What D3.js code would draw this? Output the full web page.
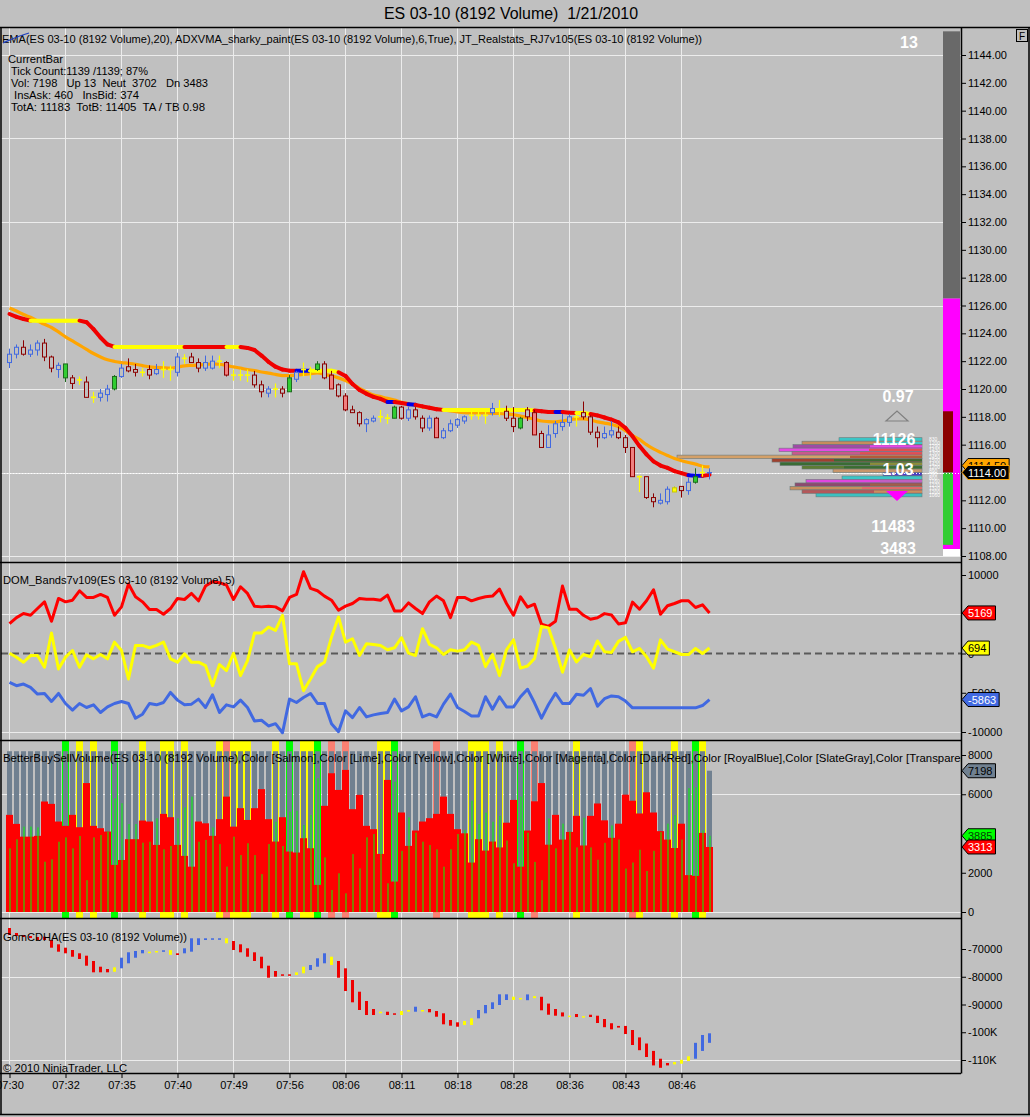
<!DOCTYPE html>
<html><head><meta charset="utf-8">
<script src="https://cdn.jsdelivr.net/npm/d3@7"></script>
<style>
html,body{margin:0;padding:0;background:#c0c0c0;}
svg{display:block;}
text{font-family:"Liberation Sans",Arial,sans-serif;}
</style></head><body>
<svg id="c" width="1030" height="1117"></svg>
<script>
// ---------------- DATA ----------------
const tickBars   = [0,8,16,24,32,40,48,56,64,72,80,88,96];
const tickLabels = ["07:30","07:32","07:35","07:40","07:49","07:56","08:06","08:11","08:18","08:28","08:36","08:43","08:46"];
const priceTicks = [1108,1110,1112,1116,1118,1120,1122,1124,1126,1128,1130,1132,1134,1136,1138,1140,1142,1144];
const priceGrid  = [1108,1114,1120,1126,1132,1138,1144];
const domTicks = [10000,0,-5000,-10000];
const domGrid  = [5000,-10000];
const volTicks = [0,2000,6000,8000];
const volGrid  = [0,6000];
const cdTicks  = [-70000,-80000,-90000,-100000,-110000];
const cdGrid   = [-80000,-110000];

const open = [1121.9,1122.5,1123.0,1122.5,1122.8,1123.3,1122.3,1121.4,1120.8,1120.8,
1120.65,1120.5,1119.4,1119.4,1119.6,1120.0,1120.9,1121.6,1121.4,1121.2,
1121.4,1121.1,1121.4,1121.4,1121.2,1122.2,1122.3,1121.9,1121.5,1121.5,
1122.0,1121.9,1121.0,1121.0,1121.0,1121.0,1120.3,1119.7,1120.0,1120.0,
1119.8,1120.7,1121.4,1121.3,1121.4,1121.8,1121.0,1120.3,1119.5,1118.5,
1118.3,1117.5,1117.7,1118.0,1117.9,1117.9,1118.7,1117.9,1118.5,1117.9,
1117.2,1117.9,1116.5,1117.0,1117.4,1117.7,1118.1,1118.1,1118.1,1118.3,
1118.5,1118.4,1117.9,1117.2,1118.5,1118.3,1116.8,1115.8,1116.8,1117.3,
1117.6,1118.0,1118.3,1118.0,1116.9,1116.5,1116.7,1116.9,1116.5,1115.8,
1113.7,1113.7,1112.2,1111.8,1111.9,1112.9,1113.0,1112.7,1113.3,1114.0,
1114.0];
const high = [1122.9,1123.2,1123.5,1123.2,1123.5,1123.6,1122.4,1121.9,1121.8,1121.0,
1120.9,1120.9,1119.8,1120.0,1120.3,1121.0,1121.8,1122.2,1121.8,1121.5,
1121.7,1121.8,1122.0,1121.7,1122.6,1122.5,1122.6,1122.2,1122.4,1122.4,
1122.4,1122.0,1121.4,1121.4,1121.4,1121.3,1120.6,1120.2,1120.4,1120.2,
1121.0,1121.3,1121.9,1121.6,1122.0,1122.0,1121.3,1120.4,1119.7,1118.8,
1118.4,1117.9,1118.1,1118.5,1118.2,1118.8,1118.8,1118.7,1118.7,1118.1,
1118.1,1118.0,1117.2,1117.8,1117.9,1118.1,1118.4,1118.4,1118.6,1119.0,
1119.2,1118.8,1118.7,1118.0,1118.7,1118.5,1117.0,1117.4,1117.7,1118.2,
1118.2,1118.4,1119.1,1118.1,1117.3,1117.3,1117.7,1117.3,1116.7,1115.8,
1113.8,1113.7,1112.5,1112.5,1113.0,1113.0,1113.0,1113.6,1114.3,1114.5,
1114.3];
const low = [1121.5,1122.2,1122.4,1122.3,1122.4,1122.0,1121.2,1120.8,1120.5,1120.0,
1120.3,1119.4,1119.0,1119.1,1119.1,1119.9,1120.8,1121.2,1120.9,1120.9,
1120.7,1121.0,1120.8,1120.6,1120.9,1121.8,1121.9,1121.2,1121.3,1121.4,
1121.5,1120.9,1120.6,1120.6,1120.5,1120.1,1119.4,1119.4,1119.4,1119.4,
1119.8,1120.5,1120.9,1120.7,1121.3,1120.7,1120.0,1119.4,1118.4,1118.3,
1117.3,1116.9,1117.6,1117.6,1117.5,1117.9,1117.8,1117.7,1117.8,1116.9,
1117.0,1116.5,1116.4,1116.9,1117.2,1117.5,1117.8,1117.8,1117.5,1118.1,
1118.0,1117.7,1116.9,1117.1,1117.7,1116.7,1115.8,1115.8,1116.5,1117.0,
1117.3,1117.3,1117.8,1116.7,1115.8,1116.4,1116.5,1116.4,1115.4,1113.7,
1112.6,1112.1,1111.5,1111.7,1111.7,1112.6,1112.2,1112.4,1113.2,1113.7,
1113.5];
const close = [1122.5,1123.0,1122.5,1122.8,1123.3,1122.3,1121.5,1121.7,1121.8,1120.4,
1120.65,1119.4,1119.4,1119.7,1120.0,1120.9,1121.5,1121.3,1121.2,1121.2,
1121.0,1121.4,1121.4,1121.4,1122.3,1122.2,1121.9,1121.5,1121.9,1122.0,
1122.0,1121.0,1121.0,1121.0,1121.0,1120.3,1119.8,1120.0,1120.0,1119.7,
1120.8,1121.2,1121.4,1121.3,1121.8,1120.8,1120.0,1119.5,1118.5,1118.3,
1117.5,1117.8,1117.9,1118.0,1117.9,1118.7,1117.9,1118.5,1118.0,1117.2,
1117.9,1116.5,1117.0,1117.5,1117.8,1118.0,1118.1,1118.1,1118.1,1118.6,
1118.5,1117.9,1117.3,1117.9,1118.0,1116.7,1115.8,1116.7,1117.5,1117.6,
1118.0,1118.0,1118.0,1116.9,1116.5,1116.8,1117.0,1116.5,1115.8,1113.7,
1113.7,1112.2,1111.9,1112.0,1112.8,1112.6,1112.7,1113.3,1113.7,1114.0,
1114.0];
// u=up(royal blue) d=down(dark red) y=neutral cross g=strong up s=strong down Y=neutral filled
const barType = ["u","u","d","u","u","d","d","u","g","d",
"y","d","y","u","u","g","u","d","d","y",
"d","u","y","y","u","y","d","d","u","u",
"y","s","y","y","y","d","d","u","y","d",
"g","u","y","y","g","d","s","d","s","d",
"d","u","u","y","y","g","d","u","d","d",
"u","s","u","u","u","u","y","y","y","u",
"y","d","d","g","d","s","d","u","u","u",
"u","y","d","d","d","u","u","d","d","s",
"y","d","d","u","u","Y","d","u","g","y",
"u"];
const ema = [1125.82,1125.6,1125.35,1125.15,1124.9,1124.65,1124.42,1124.1,1123.75,1123.45,
1123.15,1122.85,1122.55,1122.3,1122.1,1121.98,1121.9,1121.85,1121.78,1121.68,
1121.59,1121.55,1121.52,1121.5,1121.58,1121.66,1121.7,1121.73,1121.76,1121.8,
1121.78,1121.68,1121.59,1121.5,1121.4,1121.33,1121.22,1121.14,1121.05,1120.96,
1120.97,1121.0,1121.05,1121.1,1121.15,1121.05,1120.95,1120.8,1120.6,1120.35,
1120.05,1119.8,1119.57,1119.45,1119.33,1119.2,1119.05,1118.95,1118.82,1118.72,
1118.64,1118.58,1118.5,1118.42,1118.35,1118.3,1118.28,1118.28,1118.28,1118.26,
1118.24,1118.2,1118.15,1118.05,1117.95,1117.82,1117.7,1117.66,1117.64,1117.7,
1117.8,1117.85,1117.85,1117.78,1117.64,1117.55,1117.45,1117.3,1117.0,1116.65,
1116.38,1116.0,1115.7,1115.45,1115.22,1115.0,1114.85,1114.72,1114.6,1114.45,
1114.4];
const adxvma = [1125.39,1125.18,1125.03,1124.91,1124.91,1124.91,1124.91,1124.91,1124.91,1124.91,
1124.91,1124.8,1124.3,1123.7,1123.2,1123.02,1123.02,1123.02,1123.02,1123.02,
1123.02,1123.02,1123.02,1123.02,1123.02,1123.02,1123.02,1123.02,1123.02,1123.02,
1123.02,1123.02,1123.02,1123.02,1122.95,1122.8,1122.4,1121.95,1121.6,1121.4,
1121.32,1121.32,1121.32,1121.32,1121.32,1121.32,1121.32,1121.2,1120.94,1120.36,
1119.93,1119.65,1119.43,1119.29,1119.07,1119.07,1119.0,1118.9,1118.86,1118.75,
1118.65,1118.55,1118.5,1118.5,1118.5,1118.5,1118.5,1118.5,1118.5,1118.5,
1118.5,1118.5,1118.5,1118.5,1118.5,1118.45,1118.4,1118.35,1118.35,1118.35,
1118.3,1118.28,1118.28,1118.2,1118.1,1117.95,1117.8,1117.6,1117.2,1116.6,
1115.9,1115.3,1114.8,1114.5,1114.33,1114.1,1113.95,1113.8,1113.76,1113.76,
1113.83];
const adxColor = ["r","r","r","y","y","y","y","y","y","y",
"r","r","r","r","r","y","y","y","y","y",
"y","y","y","y","y","r","r","r","r","r",
"r","y","y","r","r","r","r","r","r","r",
"r","b","b","y","y","y","y","r","r","r",
"r","r","r","r","b","r","r","b","r","r",
"r","r","y","y","y","y","y","y","y","y",
"y","y","y","y","y","r","r","r","b","r",
"r","y","y","r","r","r","r","r","r","r",
"r","r","r","r","r","r","r","b","b","r",
"r"];

const domUpper = [3800,4570,5090,4870,5730,6580,4100,7010,6580,6790,
7990,7140,7140,7520,7140,4870,5940,8850,7220,6580,
5600,5600,5000,5730,7010,6880,7650,6710,8590,9150,
9020,8720,6880,8500,7650,6030,5940,6030,5940,5430,
7140,7520,10420,8290,7990,7310,6790,5510,6030,6370,
7010,6920,6920,6790,7440,5430,5430,6450,5730,5090,
6580,7310,6710,4570,7140,7140,6710,7010,7220,7310,
8200,6370,4870,7220,5900,6280,3720,3460,4100,8590,
5640,5640,4870,4360,4550,5080,4900,3770,3910,6540,
5640,6720,8120,5000,6080,6370,6720,6720,5860,6200,
5169];
const domMid = [40,-470,-1110,-260,-260,-1750,2610,-1970,-470,380,
-1750,-170,-680,-130,-680,1450,380,-3250,1030,1030,
730,1030,1450,-680,-1110,-40,-1110,-1110,-1540,-4100,
-1410,-2180,40,-2820,-900,2610,2610,3370,2950,4870,
-1320,-1320,-4740,-3250,-1670,-1110,2090,4660,1450,1880,
-260,1240,1150,1030,470,730,2010,40,-260,3160,
1150,730,-130,470,300,470,1450,1030,-1670,-130,
-2820,470,1740,-1860,-1600,-640,3460,3260,640,-2380,
440,-1080,-130,-420,1600,220,130,1540,2050,220,
640,-420,-1860,1740,560,220,-130,-130,640,0,
694];
const domLower = [-3680,-4100,-3890,-4320,-5170,-5090,-6110,-5090,-6370,-7220,
-6370,-6880,-6540,-7520,-6800,-6370,-6110,-6370,-8250,-7730,
-6370,-6540,-6240,-4960,-5940,-6540,-6450,-5810,-6880,-5260,
-7520,-6540,-6800,-5940,-6880,-8590,-8500,-9230,-8940,-10090,
-5810,-6240,-5600,-5090,-6370,-6370,-8940,-9960,-7310,-8160,
-6880,-8080,-7820,-7650,-7520,-5810,-7310,-6800,-5510,-8080,
-7730,-8080,-6450,-5170,-6880,-7390,-7950,-7950,-5510,-7090,
-5510,-6800,-6800,-5510,-4550,-6280,-8230,-6500,-5060,-6370,
-6370,-5190,-5320,-4460,-6720,-5760,-5410,-5500,-6060,-6920,
-6920,-6920,-6920,-6920,-6920,-6920,-6920,-6920,-6920,-6630,
-5863];

const totalVol = [8192,8192,8192,8192,8192,8192,8192,8192,8192,8192,
8192,8192,8192,8192,8192,8192,8192,8192,8192,8192,
8192,8192,8192,8192,8192,8192,8192,8192,8192,8192,
8192,8192,8192,8192,8192,8192,8192,8192,8192,8192,
8192,8192,8192,8192,8192,8192,8192,8192,8192,8192,
8192,8192,8192,8192,8192,8192,8192,8192,8192,8192,
8192,8192,8192,8192,8192,8192,8192,8192,8192,8192,
8192,8192,8192,8192,8192,8192,8192,8192,8192,8192,
8192,8192,8192,8192,8192,8192,8192,8192,8192,8192,
8192,8192,8192,8192,8192,8192,8192,8192,8192,8192,
7198];
const sellVol = [4950,4490,3840,3840,3880,5630,5510,4610,4390,4950,
4320,6570,4390,4270,4100,2400,2650,3710,3710,4660,
4610,3420,5000,4830,3420,2860,2310,4610,4520,3880,
4730,5880,4350,5290,4690,5290,6260,4730,3590,4830,
3080,3030,3760,3250,1380,5410,7070,6220,7240,5240,
5970,4390,4220,2960,6730,1550,5070,3370,4150,4610,
4780,5000,5880,5000,4220,4010,2520,3710,3130,3590,
3290,4550,5710,2310,4150,5640,6570,3430,4950,3690,
4080,4900,3390,4900,5530,4670,3780,4500,5980,5670,
5020,6100,5070,4120,3690,3260,4500,1880,1840,4030,
3313];

const cdOpen = [-62430,-64230,-64950,-65310,-65680,-65570,-66760,-68310,-69530,-70360,
-71550,-72410,-74320,-76380,-77210,-78200,-76960,-75150,-73140,-71550,
-71330,-71080,-70830,-70400,-71550,-71550,-70970,-68560,-66760,-66400,
-66400,-66140,-67120,-68310,-69750,-71190,-72780,-76020,-77930,-79120,
-79120,-79370,-78760,-77570,-76380,-75150,-72780,-74320,-76960,-81170,
-85390,-88740,-91620,-92600,-92600,-93170,-93790,-92600,-92600,-91980,
-91620,-92350,-93170,-95590,-96420,-97390,-97390,-94980,-93170,-91620,
-90180,-88380,-88380,-87650,-88450,-87000,-87220,-89680,-91620,-92850,
-94000,-93430,-94200,-93690,-94040,-95230,-96750,-97720,-97720,-99190,
-101860,-104060,-106720,-109540,-111080,-111590,-111340,-110360,-109540,-106730,
-103810];
const cdClose = [-64950,-65310,-65680,-66040,-66760,-66760,-69530,-70970,-71550,-72780,
-73600,-76020,-78400,-78400,-78400,-76600,-73140,-71190,-70720,-70360,
-70970,-70720,-70470,-72100,-72160,-69750,-66140,-66140,-66140,-66140,
-66140,-67950,-70360,-71190,-72780,-74320,-76960,-80340,-79980,-79620,
-79620,-78400,-76380,-75770,-73350,-71550,-75770,-80340,-85140,-89210,
-91980,-93790,-93790,-92960,-93790,-93530,-92350,-91980,-90800,-92350,
-92810,-94400,-97140,-97640,-98000,-95950,-94980,-91980,-90180,-89210,
-86330,-86330,-87190,-88000,-86360,-87700,-92090,-93680,-94040,-94300,
-94300,-94520,-94500,-94510,-96670,-98180,-98950,-98330,-100640,-104600,
-106470,-108920,-111950,-112810,-111950,-110730,-109900,-108670,-103810,-100990,
-100380];
const cdColor = ["r","r","r","r","r","r","r","r","r","r",
"r","r","r","r","r","y","b","b","b","b",
"y","y","b","y","r","b","b","b","b","b",
"b","y","r","r","r","r","r","r","r","r",
"r","y","y","b","b","b","y","r","r","r",
"r","r","r","y","r","r","y","y","b","y",
"r","r","r","r","r","y","y","b","b","b",
"b","b","y","y","b","y","r","r","r","r",
"y","r","y","r","r","r","r","r","r","r",
"r","r","r","r","r","y","y","y","b","b",
"b"];

// volume profile at price (right side of price panel)
const profPrice = [1116.375,1116.125,1115.875,1115.625,1115.375,1115.125,1114.875,1114.625,1114.375,1114.125,1113.875,1113.625,1113.375,1113.125,1112.875,1112.625,1112.375];
const profVol   = [830,1200,1290,1430,1300,2450,1500,1420,1200,890,390,800,1160,1270,1320,1200,1060];
const profCol   = ["#3cc6c6","#c68c5c","#a04aa6","#e44ae4","#c85a8c","#d4a068","#a0402e","#3a6c34","#5e7c34","#c8966a","#4a3cc8","#3cc6c6","#e046e0","#8c4a6e","#c8905e","#b4585a","#3cc0c0"];
const profVol2  = [0,420,520,530,620,720,880,520,780,0,0,0,420,520,600,480,0];
const profCol2  = ["#3cc6c6","#3cc6c6","#e44ae4","#e05050","#e05050","#b45a3a","#3a6c34","#8c8c3c","#3a6c34","#c8966a","#4a3cc8","#3cc6c6","#c060c0","#a06048","#e06a6a","#c8905e","#3cc0c0"];

// right stats column (price ranges)
const statFrom  = [1145.7,1126.5,1118.4,1114.0,1108.5];
const statTo    = [1126.5,1108.5,1114.0,1108.8,1108.0];
const statColor = ["#696969","#ff00ff","#8b0000","#32cd32","#ffffff"];
const statWide  = [true,true,false,false,true];

// ---------------- DRAW ----------------
const svg = d3.select("#c");
const FONT = '"Liberation Sans",Arial,sans-serif';
const AXX = 961;
const panels = {p:[28,562], d:[562,740], v:[740,918], c:[918,1073]};

const xs = d3.scaleLinear().domain([0,100]).range([9,709]);
const yP = d3.scaleLinear().domain([1108,1144]).range([556,55]);
const yD = d3.scaleLinear().domain([-10000,10000]).range([732,575]);
const yV = d3.scaleLinear().domain([0,8000]).range([912,755]);
const yC = d3.scaleLinear().domain([-110000,-70000]).range([1060,949]);
const xProf = d3.scaleLinear().domain([0,2450]).range([0,245]);

svg.append("rect").attr("width",1030).attr("height",1117).attr("fill","#c0c0c0");

const defs = svg.append("defs");
Object.entries(panels).forEach(([k,[t,b]])=>{
  defs.append("clipPath").attr("id","clip-"+k).append("rect")
    .attr("x",1).attr("y",t+1).attr("width",AXX-1).attr("height",b-t-1);
});
function panelG(k){ return svg.append("g").attr("clip-path","url(#clip-"+k+")"); }

// grids
const GRID = "#ececec";
const gridG = svg.append("g");
Object.entries(panels).forEach(([k,[t,b]])=>{
  gridG.selectAll(null).data(tickBars).enter().append("line")
    .attr("x1",d=>xs(d)+0.5).attr("x2",d=>xs(d)+0.5).attr("y1",t).attr("y2",b)
    .attr("stroke",GRID).attr("stroke-width",1);
});
function hgrid(vals, sc){
  gridG.selectAll(null).data(vals).enter().append("line")
    .attr("x1",1).attr("x2",AXX).attr("y1",d=>Math.round(sc(d))+0.5).attr("y2",d=>Math.round(sc(d))+0.5)
    .attr("stroke",GRID).attr("stroke-width",1);
}
hgrid(priceGrid,yP); hgrid(domGrid,yD); hgrid(volGrid,yV); hgrid(cdGrid,yC);

// ---- price panel ----
const gp = panelG("p");
statFrom.forEach((f,i)=>{
  gp.append("rect").attr("x",943).attr("width",statWide[i]?17:10)
    .attr("y",yP(f)).attr("height",yP(statTo[i])-yP(f)).attr("fill",statColor[i]);
});
profPrice.forEach((p,i)=>{
  const yc = yP(p), h = yP(0) - yP(0.25);
  const x0 = 922 - xProf(profVol[i]);
  gp.append("rect").attr("x",x0).attr("y",yc-h/2).attr("width",xProf(profVol[i])).attr("height",h)
    .attr("fill",profCol[i]).attr("stroke","#6a7a7a").attr("stroke-width",0.6);
  if(profVol2[i]>0){
    gp.append("rect").attr("x",922-xProf(profVol2[i])).attr("y",yc-h/2+0.6).attr("width",xProf(profVol2[i])).attr("height",h-1.2)
      .attr("fill",profCol2[i]);
  }
  gp.append("text").attr("x",929).attr("y",yc+2).text(profVol[i])
    .attr("fill","#fff").style("font-size","5px").style("font-family",FONT);
});
gp.append("line").attr("x1",1).attr("x2",AXX).attr("y1",Math.round(yP(1114))+0.5).attr("y2",Math.round(yP(1114))+0.5)
  .attr("stroke","#ffffff").attr("stroke-dasharray","1,2");

gp.append("path").datum(ema)
  .attr("d",d3.line().x((d,i)=>xs(i)+0.5).y(d=>yP(d)).curve(d3.curveMonotoneX))
  .attr("fill","none").attr("stroke","#ffa500").attr("stroke-width",3.2);
const adxC = {r:"#f00000",y:"#ffff00",b:"#0000e8"};
for(let i=0;i<adxvma.length-1;i++){
  gp.append("line").attr("x1",xs(i)+0.5).attr("y1",yP(adxvma[i])).attr("x2",xs(i+1)+0.5).attr("y2",yP(adxvma[i+1]))
    .attr("stroke",adxC[adxColor[i]]).attr("stroke-width",4).attr("stroke-linecap","round");
}
const cStroke = {u:"#4169e1",d:"#8b0000",g:"#1d6b1d",s:"#8b0000",y:"#ffff00",Y:"#c8c800"};
const cFill   = {u:"none",d:"none",g:"#32cd32",s:"#f08080",y:"none",Y:"#ffff00"};
open.forEach((o,i)=>{
  const t = barType[i], x = xs(i);
  const g = gp.append("g");
  if(t==="y"){
    g.append("line").attr("x1",x+0.5).attr("x2",x+0.5).attr("y1",yP(high[i])).attr("y2",yP(low[i]))
      .attr("stroke","#ffff00").attr("stroke-width",1.2);
    g.append("line").attr("x1",x-2).attr("x2",x+3).attr("y1",yP(o)).attr("y2",yP(o))
      .attr("stroke","#ffff00").attr("stroke-width",1.6);
    return;
  }
  g.append("line").attr("x1",x+0.5).attr("x2",x+0.5).attr("y1",yP(high[i])).attr("y2",yP(low[i]))
    .attr("stroke",cStroke[t]).attr("stroke-width",1);
  const top = yP(Math.max(o,close[i])), bot = yP(Math.min(o,close[i]));
  g.append("rect").attr("x",x-1.5).attr("y",top).attr("width",4).attr("height",Math.max(0.5,bot-top))
    .attr("fill",cFill[t]==="none"?"#c0c0c0":cFill[t]).attr("stroke",cStroke[t]).attr("stroke-width",1);
});

function big(x,y,txt,size){ gp.append("text").attr("x",x).attr("y",y).attr("text-anchor","middle").text(txt)
  .attr("fill","#ffffff").style("font-size",(size||16)+"px").style("font-weight","bold").style("font-family",FONT); }
big(909,48,"13");
big(898,402,"0.97");
gp.append("path").attr("d","M886,421 L908,421 L897,411 Z").attr("fill","none").attr("stroke","#808080").attr("stroke-width",1.2);
big(894,445,"11126");
big(898,475,"1.03");
gp.append("path").attr("d","M886,491 L908,491 L897,501 Z").attr("fill","#ff00ff");
big(893,532,"11483");
big(898,554,"3483");

// ---- DOM panel ----
const gd = panelG("d");
gd.append("line").attr("x1",1).attr("x2",AXX).attr("y1",yD(0)).attr("y2",yD(0))
  .attr("stroke","#5a5a5a").attr("stroke-width",2).attr("stroke-dasharray","7,4");
[[domUpper,"#ff0000"],[domMid,"#ffff00"],[domLower,"#4169e1"]].forEach(([arr,col])=>{
  gd.append("path").datum(arr).attr("d",d3.line().x((d,i)=>xs(i)+0.5).y(d=>yD(d)))
    .attr("fill","none").attr("stroke",col).attr("stroke-width",3).attr("stroke-linejoin","round");
});

// ---- Volume panel ----
const gv = panelG("v");
const bgCol = {y:"#ffff00",Y:"#ffff00",g:"#00ff00",s:"#fa8072"};
barType.forEach((t,i)=>{
  if(bgCol[t]) gv.append("rect").attr("x",xs(i)-3).attr("y",740).attr("width",7).attr("height",178).attr("fill",bgCol[t]);
});
totalVol.forEach((v,i)=>{
  gv.append("rect").attr("x",xs(i)-2).attr("y",yV(v)).attr("width",5).attr("height",yV(0)-yV(v)).attr("fill","#708090");
});
sellVol.forEach((v,i)=>{
  gv.append("rect").attr("x",xs(i)-3).attr("y",yV(v)).attr("width",7).attr("height",yV(0)-yV(v)).attr("fill","#ff0000");
});
sellVol.forEach((v,i)=>{
  const b = totalVol[i]-v;
  gv.append("rect").attr("x",xs(i)).attr("y",yV(b)).attr("width",2).attr("height",yV(0)-yV(b)).attr("fill","rgba(0,255,0,0.5)");
});

// ---- CD panel ----
const gc = panelG("c");
const cdC = {r:"#ee0000",b:"#4169e1",y:"#ffff00"};
cdOpen.forEach((o,i)=>{
  const a = yC(o), b = yC(cdClose[i]);
  const top = Math.min(a,b), h = Math.max(1.5,Math.abs(a-b));
  gc.append("rect").attr("x",xs(i)-1).attr("y",top).attr("width",3).attr("height",h).attr("fill",cdC[cdColor[i]]);
});

// ---- frames ----
const fr = svg.append("g").attr("stroke","#000").attr("stroke-width",1.5);
fr.append("line").attr("x1",0).attr("x2",1030).attr("y1",27.5).attr("y2",27.5);
[562,740,918,1073].forEach(y=>fr.append("line").attr("x1",0).attr("x2",AXX).attr("y1",y+0.5).attr("y2",y+0.5));
fr.append("line").attr("x1",AXX+0.5).attr("x2",AXX+0.5).attr("y1",27).attr("y2",1073.5);
fr.append("line").attr("x1",1).attr("x2",1).attr("y1",27).attr("y2",1115);
fr.append("line").attr("x1",1029).attr("x2",1029).attr("y1",27).attr("y2",1115);
fr.append("line").attr("x1",0).attr("x2",1030).attr("y1",1114.5).attr("y2",1114.5);
svg.append("rect").attr("x",1016.5).attr("y",29.5).attr("width",11).attr("height",12).attr("fill","none").attr("stroke","#000");
svg.append("text").attr("x",1019).attr("y",40).text("F").style("font-size","10px").style("font-family",FONT);

// ---- axes ----
function styleAxis(g){
  g.select(".domain").remove();
  g.selectAll(".tick line").attr("stroke","#000");
  g.selectAll("text").attr("fill","#000").style("font-size","11px").style("font-family",FONT);
}
svg.append("g").attr("transform",`translate(${AXX},0)`)
  .call(d3.axisRight(yP).tickValues(priceTicks).tickSize(5).tickPadding(2).tickFormat(d=>d.toFixed(2))).call(styleAxis);
svg.append("g").attr("transform",`translate(${AXX},0)`)
  .call(d3.axisRight(yD).tickValues(domTicks).tickSize(5).tickPadding(2).tickFormat(d=>d)).call(styleAxis);
svg.append("g").attr("transform",`translate(${AXX},0)`)
  .call(d3.axisRight(yV).tickValues(volTicks).tickSize(5).tickPadding(2).tickFormat(d=>d)).call(styleAxis);
svg.append("g").attr("transform",`translate(${AXX},0)`)
  .call(d3.axisRight(yC).tickValues(cdTicks).tickSize(5).tickPadding(2)
  .tickFormat(d=>Math.abs(d)>=100000?(d/1000)+"K":d)).call(styleAxis);
svg.append("g").attr("transform","translate(0.5,1073)")
  .call(d3.axisBottom(xs).tickValues(tickBars).tickSize(5).tickPadding(3).tickFormat((d,i)=>tickLabels[i])).call(styleAxis);

// ---- tags ----
function tag(y,label,fill,color,stroke){
  const g = svg.append("g");
  const p = g.append("path");
  const t = g.append("text").attr("x",968).attr("y",y+4).text(label).attr("fill",color)
    .style("font-size","11px").style("font-family",FONT);
  const w = t.node().getComputedTextLength();
  p.attr("d",`M962,${y} L968,${y-7} L${971+w},${y-7} L${971+w},${y+7} L968,${y+7} Z`)
   .attr("fill",fill).attr("stroke",stroke||"#000").attr("stroke-width",1);
}
tag(yP(1114.5),"1114.50","#ffa500","#000");
tag(yP(1114),"1114.00","#000000","#fff","#ffa500");
tag(yD(domUpper[100]),String(domUpper[100]),"#ff0000","#fff");
tag(yD(domMid[100]),String(domMid[100]),"#ffff00","#000");
tag(yD(domLower[100]),String(domLower[100]),"#4169e1","#fff");
tag(yV(totalVol[100]),String(totalVol[100]),"#708090","#000");
tag(yV(totalVol[100]-sellVol[100]),String(totalVol[100]-sellVol[100]),"#00ff00","#064006");
tag(yV(sellVol[100]),String(sellVol[100]),"#ff0000","#fff");

// ---- texts ----
function txt(x,y,s,size,len,clip){
  const t = svg.append("text").attr("x",x).attr("y",y).text(s).attr("fill","#000")
    .style("font-size",size+"px").style("font-family",FONT).style("white-space","pre");
  if(len) t.attr("textLength",len).attr("lengthAdjust","spacingAndGlyphs");
  if(clip) t.attr("clip-path","url(#clip-"+clip+")");
  return t;
}
txt(384,19,"ES 03-10 (8192 Volume)  1/21/2010",16,254);
txt(2,43,"EMA(ES 03-10 (8192 Volume),20), ADXVMA_sharky_paint(ES 03-10 (8192 Volume),6,True), JT_Realstats_RJ7v105(ES 03-10 (8192 Volume))",11,700);
svg.append("path").attr("d","M3,43 C10,40 18,36 29,33").attr("fill","none").attr("stroke","#2040c0").attr("stroke-width",1.2);
txt(8,63,"CurrentBar",11,55);
txt(11,75,"Tick Count:1139 /1139; 87%",11,137);
txt(11,87,"Vol: 7198   Up 13  Neut  3702   Dn 3483",11,197);
txt(14,99,"InsAsk: 460   InsBid: 374",11,125);
txt(11,111,"TotA: 11183  TotB: 11405  TA / TB 0.98",11,194);
txt(3,584,"DOM_Bands7v109(ES 03-10 (8192 Volume),5)",11,232);
txt(3,762,"BetterBuySellVolume(ES 03-10 (8192 Volume),Color [Salmon],Color [Lime],Color [Yellow],Color [White],Color [Magenta],Color [DarkRed],Color [RoyalBlue],Color [SlateGray],Color [Transparent])",11,974,"v");
txt(3,941,"GomCDHA(ES 03-10 (8192 Volume))",11,184);
txt(3,1072,"© 2010 NinjaTrader, LLC",11,124);
</script></body></html>
